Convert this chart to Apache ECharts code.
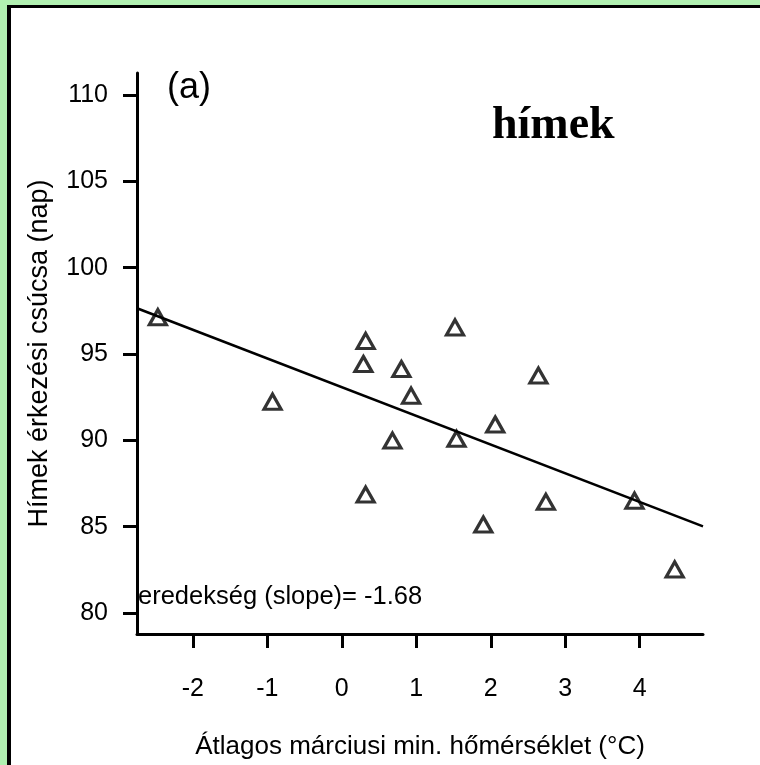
<!DOCTYPE html>
<html>
<head>
<meta charset="utf-8">
<script src="https://cdn.jsdelivr.net/npm/echarts@6/dist/echarts.min.js"></script>
<style>
  html, body { margin: 0; padding: 0; background: #b1f0b1; }
  #frame { position: absolute; left: 7px; top: 5px; width: 760px; height: 758px;
           background: #ffffff; border-left: 4px solid #000; border-top: 3px solid #000;
           border-bottom: 1px solid #9a9a9a; }
  #chart { position: absolute; left: 0; top: 0; width: 760px; height: 765px; }
</style>
</head>
<body>
<div id="frame"></div>
<div id="chart"></div>
<script>
// Data
const temperature = [-2.47, -0.93, 0.32, 0.29, 0.80, 0.93, 1.52, 0.68, 1.54, 2.06, 0.32, 1.90, 2.64, 2.74, 3.93, 4.47];
const arrivalPeak = [97.13, 92.24, 95.76, 94.42, 94.13, 92.59, 96.54, 89.99, 90.09, 90.92, 86.86, 85.13, 93.75, 86.44, 86.51, 82.53];
// Regression line end points
const fitX = [-2.75, 4.85];
const fitY = [97.65, 85.02];
const xTicks = [-2, -1, 0, 1, 2, 3, 4];
const yTicks = [80, 85, 90, 95, 100, 105, 110];
const xRange = [-2.75, 4.85];
const yRange = [78.79, 111.27];

const FONT = '"Liberation Sans", Arial, sans-serif';

const chart = echarts.init(document.getElementById('chart'), null, { renderer: 'canvas' });
const points = temperature.map((x, i) => [x, arrivalPeak[i]]);
const fitLine = fitX.map((x, i) => [x, fitY[i]]);

chart.setOption({
  backgroundColor: 'transparent',
  animation: false,
  grid: { left: 137, top: 73, right: 57, bottom: 129, containLabel: false },
  xAxis: {
    type: 'value', min: xRange[0], max: xRange[1],
    name: 'Átlagos márciusi min. hőmérséklet (°C)',
    nameLocation: 'middle', nameGap: 100,
    nameTextStyle: { fontFamily: FONT, fontSize: 26, color: '#000' },
    axisLine: { show: true, onZero: false, lineStyle: { color: '#000', width: 3 } },
    axisTick: { show: true, length: 14, lineStyle: { color: '#000', width: 3 }, customValues: xTicks },
    axisLabel: { fontFamily: FONT, fontSize: 25, color: '#000', margin: 43, customValues: xTicks },
    splitLine: { show: false }
  },
  yAxis: {
    type: 'value', min: yRange[0], max: yRange[1],
    name: 'Hímek érkezési csúcsa (nap)',
    nameLocation: 'middle', nameGap: 84, nameRotate: 90,
    nameTextStyle: { fontFamily: FONT, fontSize: 27, color: '#000' },
    axisLine: { show: true, onZero: false, lineStyle: { color: '#000', width: 3 } },
    axisTick: { show: true, length: 14, lineStyle: { color: '#000', width: 3 }, customValues: yTicks },
    axisLabel: { fontFamily: FONT, fontSize: 25, color: '#000', margin: 29, customValues: yTicks },
    splitLine: { show: false }
  },
  series: [
    {
      type: 'line', data: fitLine, symbol: 'none', clip: true,
      lineStyle: { color: '#000', width: 2.6 }, z: 2
    },
    {
      type: 'scatter', data: points, symbol: 'triangle', symbolSize: [17, 15],
      itemStyle: { color: 'rgba(255,255,255,0)', borderColor: '#000', borderWidth: 3.2 }, z: 3
    }
  ],
  graphic: [
    { type: 'text', left: 167, top: 70, style: { text: '(a)', fontFamily: FONT, fontSize: 36, fill: '#000' } },
    { type: 'text', left: 492, top: 103, style: { text: 'hímek', fontFamily: '"Liberation Serif", "Times New Roman", serif', fontWeight: 'bold', fontSize: 46, fill: '#000' } },
    { type: 'text', left: 138, top: 584, style: { text: 'eredekség (slope)= -1.68', fontFamily: FONT, fontSize: 25.5, fill: '#000' } }
  ]
});
</script>
</body>
</html>
